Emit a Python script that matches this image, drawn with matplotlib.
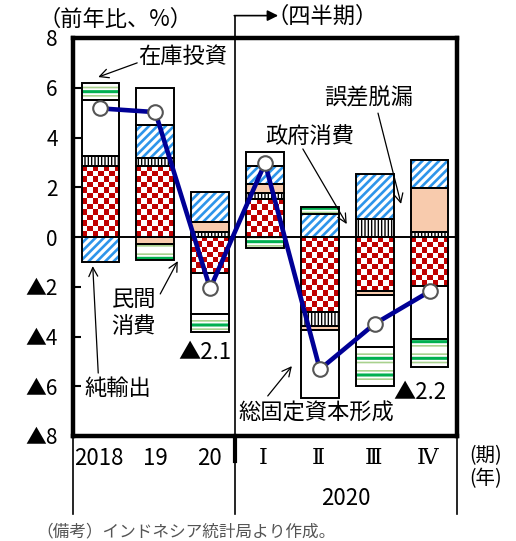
import numpy as np
import matplotlib
matplotlib.use("Agg")
import matplotlib.pyplot as plt
from matplotlib.colors import ListedColormap

plt.rcParams['font.family'] = ['Noto Sans CJK JP', 'DejaVu Sans']

# data (contribution to GDP growth, %pt)
periods = ['2018', '19', '20', 'Ⅰ', 'Ⅱ', 'Ⅲ', 'Ⅳ']
priv_cons = [2.86, 2.86, -1.46, 1.52, -3.02, -2.18, -1.98]
gov_cons = [0.41, 0.30, 0.21, 0.24, -0.57, 0.74, 0.21]
discrepancy = [0.0, -0.27, 0.41, 0.36, -0.16, -0.16, 1.74]
net_exports = [-1.00, 1.36, 1.17, 0.72, 0.91, 1.79, 1.14]
gfcf = [2.25, 1.46, -1.63, 0.59, -2.72, -2.10, -2.12]
inventory = [0.69, -0.67, -0.73, -0.43, 0.30, -1.53, -1.14]
gdp = [5.17, 5.02, -2.07, 2.97, -5.32, -3.49, -2.19]

ytick_vals = [-8, -6, -4, -2, 0, 2, 4, 6, 8]
ytick_labels = ['▲8', '▲6', '▲4', '▲2', '0', '2', '4', '6', '8']

RED = '#C00000'
BLUE = '#2E95EA'
PEACH = '#F8CBAD'
GREEN = '#00B050'
LGREEN = '#A9D18E'
NAVY = '#000096'
FS = 16

fig = plt.figure(figsize=(5.16, 5.41), dpi=100)
ax = fig.add_axes([73/516, 1-436/541, 384/516, 398/541])

x = np.arange(len(periods))
w = 0.69
pos_base = np.zeros(len(x))
neg_base = np.zeros(len(x))


def stack(vals):
    v = np.array(vals, float)
    bottoms = np.where(v >= 0, pos_base, neg_base)
    pos_base[:] += np.where(v >= 0, v, 0)
    neg_base[:] += np.where(v < 0, v, 0)
    return v, bottoms


def outline(v, b):
    ax.bar(x, v, w, bottom=b, fill=False, edgecolor='black', linewidth=1.4, zorder=3)


def hatched(v, b, hatch, color, lw, fill=True, z=2):
    plt.rcParams['hatch.linewidth'] = lw
    bars = ax.bar(x, v, w, bottom=b, color='white', edgecolor=color, fill=fill,
                  hatch=hatch, linewidth=0, zorder=z)
    for r in bars:
        if hasattr(r, 'set_hatch_linewidth'):
            r.set_hatch_linewidth(lw)
    return bars


# private consumption: checkerboard
v, b = stack(priv_cons)
bars = ax.bar(x, v, w, bottom=b, color='white', linewidth=0, zorder=2)
cmap = ListedColormap(['white', RED])
for r in bars:
    x0, y0, bw, bh = r.get_x(), r.get_y(), r.get_width(), r.get_height()
    if abs(bh) < 1e-6:
        continue
    ny = max(1, int(round(abs(bh) / 0.222)))
    ii, jj = np.meshgrid(np.arange(7), np.arange(ny))
    img = (ii + jj + 1) % 2
    y1, y2 = sorted([y0, y0 + bh])
    if bh < 0:
        img = img[::-1]
    ax.imshow(img, cmap=cmap, extent=[x0, x0 + bw, y1, y2], origin='lower',
              aspect='auto', interpolation='nearest', zorder=2.1)
outline(v, b)

# government consumption: vertical lines
v, b = stack(gov_cons)
hatched(v, b, '|||||', 'black', 1.0)
outline(v, b)

# discrepancy
v, b = stack(discrepancy)
ax.bar(x, v, w, bottom=b, color=PEACH, linewidth=0, zorder=2)
outline(v, b)

# net exports: blue diagonal stripes
v, b = stack(net_exports)
hatched(v, b, '////', BLUE, 1.9)
outline(v, b)

# gross fixed capital formation
v, b = stack(gfcf)
ax.bar(x, v, w, bottom=b, color='white', linewidth=0, zorder=2)
outline(v, b)

# inventory: green horizontal stripes
v, b = stack(inventory)
hatched(v, b, '--', LGREEN, 1.2)
hatched(v, b, '-', GREEN, 2.2, fill=False, z=2.2)
outline(v, b)

ax.axhline(0, color='black', lw=1.4, zorder=4)

# GDP growth line
ax.plot(x, gdp, color=NAVY, lw=3.3, zorder=5, marker='o', markersize=10.5,
        markerfacecolor='white', markeredgecolor='#555555', markeredgewidth=1.5)

ax.set_xlim(-0.5, 6.5)
ax.set_ylim(-8, 8)
ax.set_xticks([])
ax.set_yticks(ytick_vals)
ax.set_yticklabels(ytick_labels, fontsize=15)
ax.tick_params(axis='y', direction='in', length=6, width=1.5, pad=11)
for s in ax.spines.values():
    s.set_linewidth(3.2)

# divider between years and quarters
xd = 2.45
ax.plot([xd, xd], [-8, 8], color='black', lw=1.2, zorder=4)
ax.plot([xd, xd], [8, 8.9], color='black', lw=1.2, clip_on=False)
ax.annotate('', xy=(3.24, 8.9), xytext=(xd - 0.01, 8.9),
            arrowprops=dict(arrowstyle='-|>', color='black', lw=1.2,
                            mutation_scale=16, shrinkA=0, shrinkB=0),
            annotation_clip=False)
ax.text(3.03, 8.86, '（四半期）', fontsize=FS, ha='left', va='center')
ax.text(-1.12, 8.74, '（前年比、%）', fontsize=FS, ha='left', va='center')

# category table below the frame
ax.plot([xd, xd], [-8, -9.0], color='black', lw=3, clip_on=False)
ax.plot([xd, xd], [-9.0, -11.15], color='black', lw=1.2, clip_on=False)
ax.plot([-0.5, -0.5], [-8, -11.15], color='black', lw=1.2, clip_on=False)
ax.plot([6.5, 6.5], [-8, -11.15], color='black', lw=1.2, clip_on=False)
ax.text(-0.48, -8.9, periods[0], fontsize=FS, ha='left', va='center')
ax.text(1.0, -8.9, periods[1], fontsize=FS, ha='center', va='center')
ax.text(1.98, -8.9, periods[2], fontsize=FS, ha='center', va='center')
for i in range(3, 7):
    ax.text(x[i] - 0.03, -8.9, periods[i], fontsize=FS, ha='center', va='center',
            family=['DejaVu Serif', 'Noto Sans CJK JP'])
ax.text((xd + 6.5) / 2, -10.5, '2020', fontsize=FS, ha='center', va='center')
ax.text(6.72, -8.8, '(期)', fontsize=14, ha='left', va='center')
ax.text(6.72, -9.72, '(年)', fontsize=14, ha='left', va='center')

# labels with arrows
arr = dict(arrowstyle='->', color='black', lw=0.9, mutation_scale=16,
           shrinkA=0, shrinkB=0)
ax.text(1.5, 7.24, '在庫投資', fontsize=FS, ha='center', va='center', zorder=6)
ax.annotate('', xy=(-0.04, 6.43), xytext=(0.67, 7.0), arrowprops=arr)
ax.text(4.88, 5.59, '誤差脱漏', fontsize=FS, ha='center', va='center')
ax.annotate('', xy=(5.48, 1.33), xytext=(5.06, 4.98), arrowprops=arr)
ax.text(3.82, 4.06, '政府消費', fontsize=FS, ha='center', va='center')
ax.annotate('', xy=(4.49, 0.52), xytext=(3.69, 3.54), arrowprops=arr)
ax.text(0.61, -3.06, '民間\n消費', fontsize=FS, ha='center', va='center',
        linespacing=1.2)
ax.annotate('', xy=(1.41, -0.97), xytext=(1.09, -2.29), arrowprops=arr)
ax.text(1.91, -4.66, '▲2.1', fontsize=FS, ha='center', va='center')
ax.text(0.32, -6.07, '純輸出', fontsize=FS, ha='center', va='center')
ax.annotate('', xy=(-0.14, -1.17), xytext=(-0.04, -5.47), arrowprops=arr)
ax.text(5.83, -6.27, '▲2.2', fontsize=FS, ha='center', va='center')
ax.text(3.93, -7.08, '総固定資本形成', fontsize=FS, ha='center', va='center')
ax.annotate('', xy=(3.49, -5.19), xytext=(3.05, -6.39), arrowprops=arr)

fig.text(36/516, 1 - 532/541, '（備考）インドネシア統計局より作成。', fontsize=12,
         color='#555555', ha='left', va='center')

fig.savefig('out.png', dpi=100)
